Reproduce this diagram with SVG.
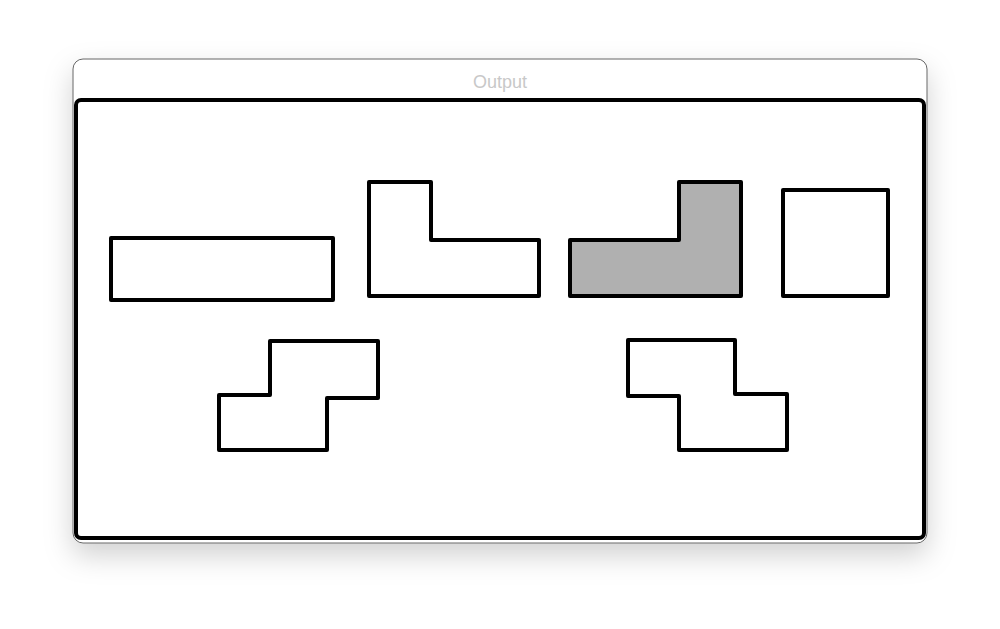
<svg xmlns="http://www.w3.org/2000/svg" width="1000" height="629" viewBox="0 0 1000 629">
  <defs>
    <filter id="shadow" x="-10%" y="-15%" width="120%" height="140%">
      <feDropShadow dx="0" dy="12" stdDeviation="14" flood-color="#000" flood-opacity="0.18"/>
    </filter>
  </defs>
  <style>
    .piece { fill: #ffffff; stroke: #000000; stroke-width: 4; stroke-linejoin: round; }
    .shaded { fill: #b0b0b0; }
    .title { font-family: "Liberation Sans", Arial, sans-serif; font-size: 18px; fill: #c8c8c8; text-anchor: middle; }
  </style>
  <rect width="1000" height="629" fill="#ffffff"/>
  <g id="window">
    <rect x="73" y="59" width="854" height="484" rx="10" ry="10" fill="#ffffff" stroke="#666666" stroke-width="1" filter="url(#shadow)"/>
    <text class="title" x="500" y="88">Output</text>
    <rect x="76" y="100" width="848" height="438" rx="5" ry="5" fill="#ffffff" stroke="#000000" stroke-width="4"/>
  </g>
  <g id="piece-i">
    <rect class="piece" x="111" y="238" width="222" height="62"/>
  </g>
  <g id="piece-l">
    <path class="piece" d="M369,182 H431 V240 H539 V296 H369 Z"/>
  </g>
  <g id="piece-j">
    <path class="piece shaded" d="M570,240 H679 V182 H741 V296 H570 Z"/>
  </g>
  <g id="piece-o">
    <rect class="piece" x="783" y="190" width="105" height="106"/>
  </g>
  <g id="piece-s">
    <path class="piece" d="M219,395 H270 V341 H378 V398 H327 V450 H219 Z"/>
  </g>
  <g id="piece-z">
    <path class="piece" d="M628,340 H735 V394 H787 V450 H679 V396 H628 Z"/>
  </g>
  <g id="connectors"></g>
</svg>
